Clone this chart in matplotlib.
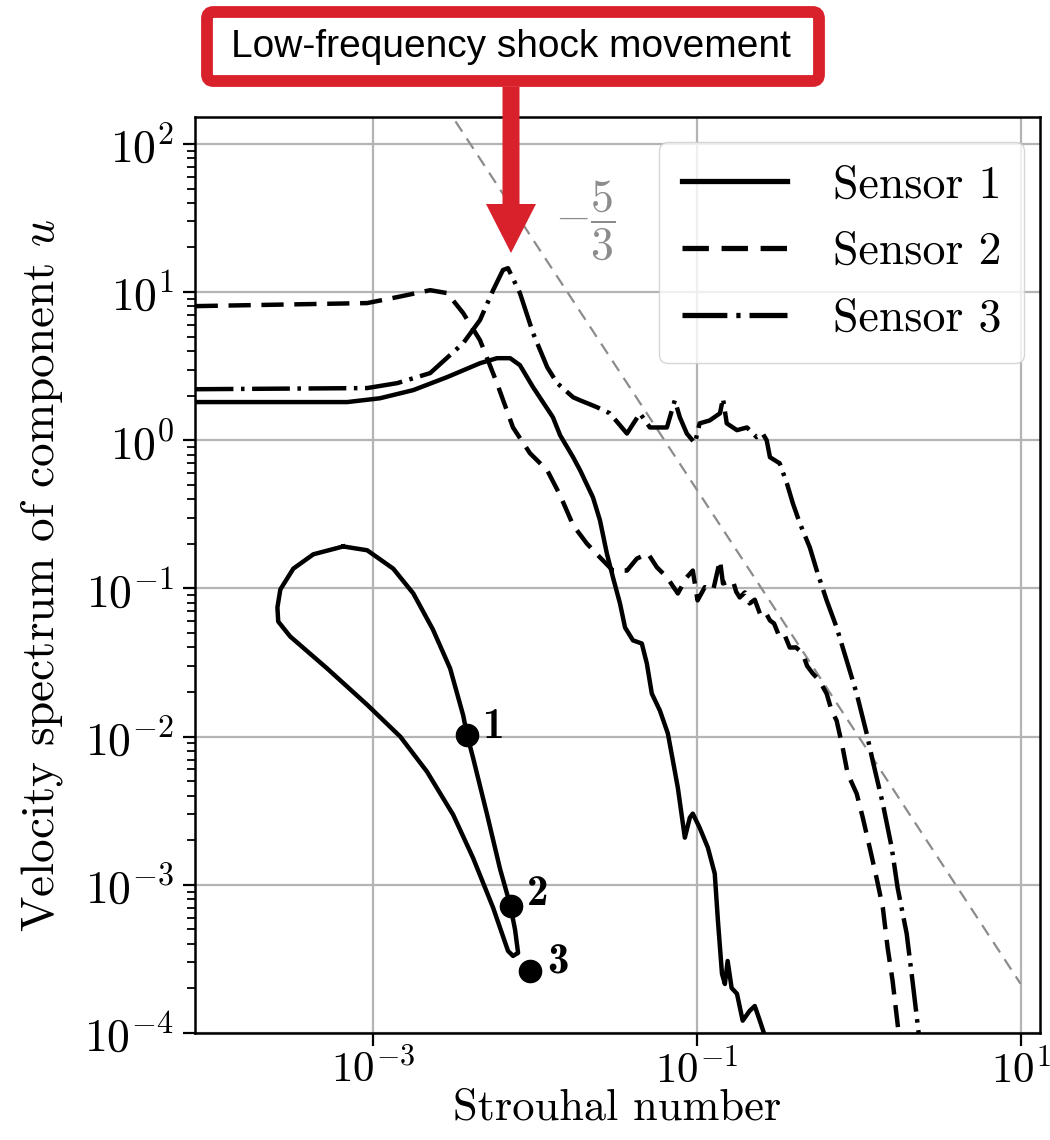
import matplotlib
matplotlib.use("Agg")
import matplotlib.pyplot as plt
import matplotlib.patches as mpatches
from matplotlib.ticker import LogLocator, NullLocator, NullFormatter

plt.rcParams.update({
    "font.family": "serif",
    "font.serif": ["cmr10"],
    "mathtext.fontset": "cm",
    "axes.formatter.use_mathtext": True,
    "axes.unicode_minus": False,
})

# sensor spectra (Strouhal number vs PSD)
st1 = [8.0e-5, 6.92e-4, 1.10e-3, 1.77e-3, 2.87e-3, 4.57e-3, 5.82e-3, 7.02e-3, 8.07e-3,
       9.73e-3, 1.29e-2, 1.43e-2, 1.72e-2, 1.90e-2, 2.28e-2, 2.52e-2, 2.78e-2, 3.03e-2,
       3.35e-2, 3.60e-2, 4.03e-2, 4.57e-2, 4.91e-2, 5.27e-2, 5.91e-2, 6.62e-2, 7.11e-2,
       7.63e-2, 8.43e-2, 9.05e-2, 9.44e-2, 0.104, 0.117, 0.129, 0.135, 0.143, 0.149,
       0.155, 0.164, 0.177, 0.192, 0.212, 0.228, 0.245, 0.270]
psd1 = [1.81, 1.81, 1.92, 2.18, 2.67, 3.31, 3.58, 3.58, 3.21, 2.28, 1.43, 1.08, 0.768,
        0.627, 0.412, 0.288, 0.172, 0.119, 0.0792, 0.0545, 0.0446, 0.0425, 0.0311,
        0.0195, 0.0150, 0.0105, 6.89e-3, 4.52e-3, 2.08e-3, 2.84e-3, 3.02e-3, 2.43e-3,
        1.78e-3, 1.19e-3, 5.71e-4, 2.51e-4, 2.14e-4, 3.06e-4, 2.01e-4, 1.84e-4, 1.21e-4,
        1.41e-4, 1.52e-4, 1.21e-4, 8.8e-5]

st2 = [8.0e-5, 9.18e-4, 1.41e-3, 2.25e-3, 2.87e-3, 3.60e-3, 4.57e-3, 5.82e-3, 7.31e-3,
       9.31e-3, 1.19e-2, 1.43e-2, 1.72e-2, 2.09e-2, 2.52e-2, 3.03e-2, 3.70e-2, 4.26e-2,
       4.99e-2, 5.66e-2, 6.53e-2, 7.63e-2, 8.67e-2, 9.44e-2, 0.101, 0.112, 0.126, 0.139,
       0.145, 0.167, 0.175, 0.184, 0.198, 0.212, 0.228, 0.245, 0.262, 0.283, 0.300, 0.325,
       0.350, 0.375, 0.410, 0.451, 0.480, 0.520, 0.570, 0.634, 0.680, 0.731, 0.796, 0.855,
       0.972, 1.06, 1.17, 1.29, 1.41, 1.51, 1.62, 1.79]
psd2 = [8.04, 8.43, 9.25, 10.3, 9.84, 7.21, 4.74, 2.43, 1.22, 0.817, 0.627, 0.425, 0.267,
        0.201, 0.162, 0.132, 0.132, 0.159, 0.172, 0.139, 0.119, 0.0925, 0.119, 0.132,
        0.0830, 0.102, 0.0969, 0.155, 0.108, 0.113, 0.095, 0.0869, 0.094, 0.0792, 0.084,
        0.0678, 0.071, 0.0608, 0.058, 0.0467, 0.048, 0.0399, 0.040, 0.0364, 0.030, 0.0267,
        0.024, 0.0195, 0.0150, 0.0128, 8.43e-3, 5.62e-3, 4.12e-3, 2.84e-3, 1.78e-3,
        1.11e-3, 7.0e-4, 3.75e-4, 2.25e-4, 8.8e-5]

st3 = [8.0e-5, 9.18e-4, 1.41e-3, 2.25e-3, 3.60e-3, 4.57e-3, 5.51e-3, 6.34e-3, 6.81e-3,
       8.07e-3, 9.73e-3, 1.19e-2, 1.37e-2, 1.72e-2, 1.90e-2, 2.42e-2, 2.90e-2, 3.70e-2,
       4.45e-2, 5.13e-2, 6.53e-2, 7.31e-2, 7.85e-2, 8.67e-2, 9.73e-2, 0.104, 0.120, 0.139,
       0.145, 0.153, 0.177, 0.204, 0.234, 0.255, 0.270, 0.283, 0.325, 0.360, 0.392, 0.433,
       0.499, 0.551, 0.634, 0.731, 0.843, 0.972, 1.12, 1.22, 1.41, 1.60, 1.74, 1.98, 2.15,
       2.38]
psd3 = [2.21, 2.25, 2.43, 2.84, 4.52, 6.47, 10.3, 14.1, 14.5, 9.84, 5.28, 3.11, 2.43,
        1.95, 1.86, 1.67, 1.52, 1.11, 1.52, 1.22, 1.22, 1.86, 1.43, 1.11, 0.954, 1.30,
        1.36, 1.52, 1.92, 1.30, 1.17, 1.22, 1.05, 1.11, 1.0, 0.768, 0.699, 0.512, 0.375,
        0.275, 0.189, 0.132, 0.0830, 0.0545, 0.0326, 0.0195, 0.0105, 6.89e-3, 3.52e-3,
        1.78e-3, 9.55e-4, 4.67e-4, 2.25e-4, 8.8e-5]

# closed trajectory curve and its three marked points
loop_st = [6.53e-4, 9.18e-4, 1.33e-3, 1.77e-3, 2.34e-3, 2.99e-3, 3.60e-3, 3.80e-3, 4.14e-3,
           5.06e-3, 6.08e-3, 7.02e-3, 7.53e-3, 7.86e-3, 7.31e-3, 6.81e-3, 5.51e-3, 4.14e-3,
           3.12e-3, 2.15e-3, 1.47e-3, 9.18e-4, 5.20e-4, 3.07e-4, 2.59e-4, 2.56e-4, 2.67e-4,
           3.21e-4, 4.27e-4, 6.53e-4]
loop_psd = [0.192, 0.181, 0.136, 0.0925, 0.0528, 0.0288, 0.0139, 0.0103, 7.21e-3, 2.97e-3,
            1.28e-3, 7.33e-4, 4.97e-4, 3.47e-4, 3.31e-4, 3.58e-4, 7.0e-4, 1.52e-3, 2.97e-3,
            5.80e-3, 1.0e-2, 0.0164, 0.0288, 0.0474, 0.0598, 0.0744, 0.0985, 0.136, 0.170,
            0.192]
pts_st = [3.80e-3, 7.11e-3, 9.31e-3]
pts_psd = [1.03e-2, 7.21e-4, 2.62e-4]
pts_lab = ["1", "2", "3"]

# -5/3 reference slope
slope_st = [2.0e-3, 10.0]
slope_psd = [315.0, 2.15e-4]

labels = ["Sensor 1", "Sensor 2", "Sensor 3"]
xticks = [1e-3, 1e-1, 1e1]
yticks = [1e-4, 1e-3, 1e-2, 1e-1, 1e0, 1e1, 1e2]
fs = 33
lw = 3.2

fig = plt.figure(figsize=(10.5, 11.4), dpi=100)
ax = fig.add_axes([0.186, 0.0939, 0.804, 0.8035])
ax.set_xscale("log")
ax.set_yscale("log")

ax.plot(slope_st, slope_psd, color="#8c8c8c", lw=1.6, dashes=(5.5, 3.7), zorder=2)
ax.plot(st1, psd1, color="k", lw=lw, label=labels[0], zorder=3)
ax.plot(st2, psd2, color="k", lw=lw, dashes=(5.0, 2.4), label=labels[1], zorder=3)
ax.plot(st3, psd3, color="k", lw=lw, dashes=(8.5, 1.7, 0.8, 1.7), label=labels[2], zorder=3)
ax.plot(loop_st, loop_psd, color="k", lw=lw, zorder=3)
ax.plot(pts_st, pts_psd, "o", color="k", ms=16, zorder=4)
offs = [(19, 5), (19, 8), (20, 6)]
for x, y, t, o in zip(pts_st, pts_psd, pts_lab, offs):
    ax.annotate(t, (x, y), xytext=o, textcoords="offset points", family="cmb10",
                ha="center", va="center", fontsize=31)

ax.text(0.0204, 30.5, r"$-\dfrac{5}{3}$", color="#8c8c8c", fontsize=fs,
        ha="center", va="center")

ax.set_xlim(7.96e-5, 13.1)
ax.set_ylim(1e-4, 152)
ax.set_xticks(xticks)
ax.set_yticks(yticks)
ax.xaxis.set_minor_locator(NullLocator())
ax.yaxis.set_minor_locator(LogLocator(base=10, subs=range(2, 10), numticks=20))
ax.yaxis.set_minor_formatter(NullFormatter())
ax.grid(True, which="major", color="#b4b4b4", lw=1.6)
ax.set_axisbelow(True)
ax.tick_params(which="major", length=9, width=1.6, labelsize=fs)
ax.tick_params(axis="y", which="major", pad=6)
ax.tick_params(axis="x", which="major", pad=2, labelsize=31)
ax.tick_params(which="minor", length=5.5, width=1.3)
for s in ax.spines.values():
    s.set_linewidth(1.8)

ax.set_xlabel("Strouhal number", fontsize=32, labelpad=-2)
ax.set_ylabel(r"Velocity spectrum of component $u$", fontsize=34, labelpad=14)

leg = ax.legend(loc="upper right", bbox_to_anchor=(0.982, 0.973), borderaxespad=0,
                fontsize=fs, handlelength=2.3, handletextpad=1.0, labelspacing=0.55,
                borderpad=0.5)
for h in leg.get_lines():
    h.set_linewidth(3.8)

# red callout box and arrow on top of the figure
W, H = 1050.0, 1140.0
red = "#d9212b"
box = mpatches.FancyBboxPatch((207 / W, 1 - 81 / H), 612 / W, 69 / H,
                              boxstyle="round,pad=0,rounding_size=0.006",
                              transform=fig.transFigure, fc="white", ec=red, lw=8.5)
fig.add_artist(box)
fig.text(511 / W, 1 - 47 / H, "Low-frequency shock movement", family="Liberation Sans",
         fontsize=28, ha="center", va="center", color="k")
arrow = mpatches.FancyArrow(511 / W, 1 - 87 / H, 0, -(253 - 87) / H, width=17 / W,
                            head_width=50 / W, head_length=49 / H,
                            length_includes_head=True, transform=fig.transFigure,
                            color=red, lw=0)
fig.add_artist(arrow)

fig.savefig("out.png", dpi=100)
